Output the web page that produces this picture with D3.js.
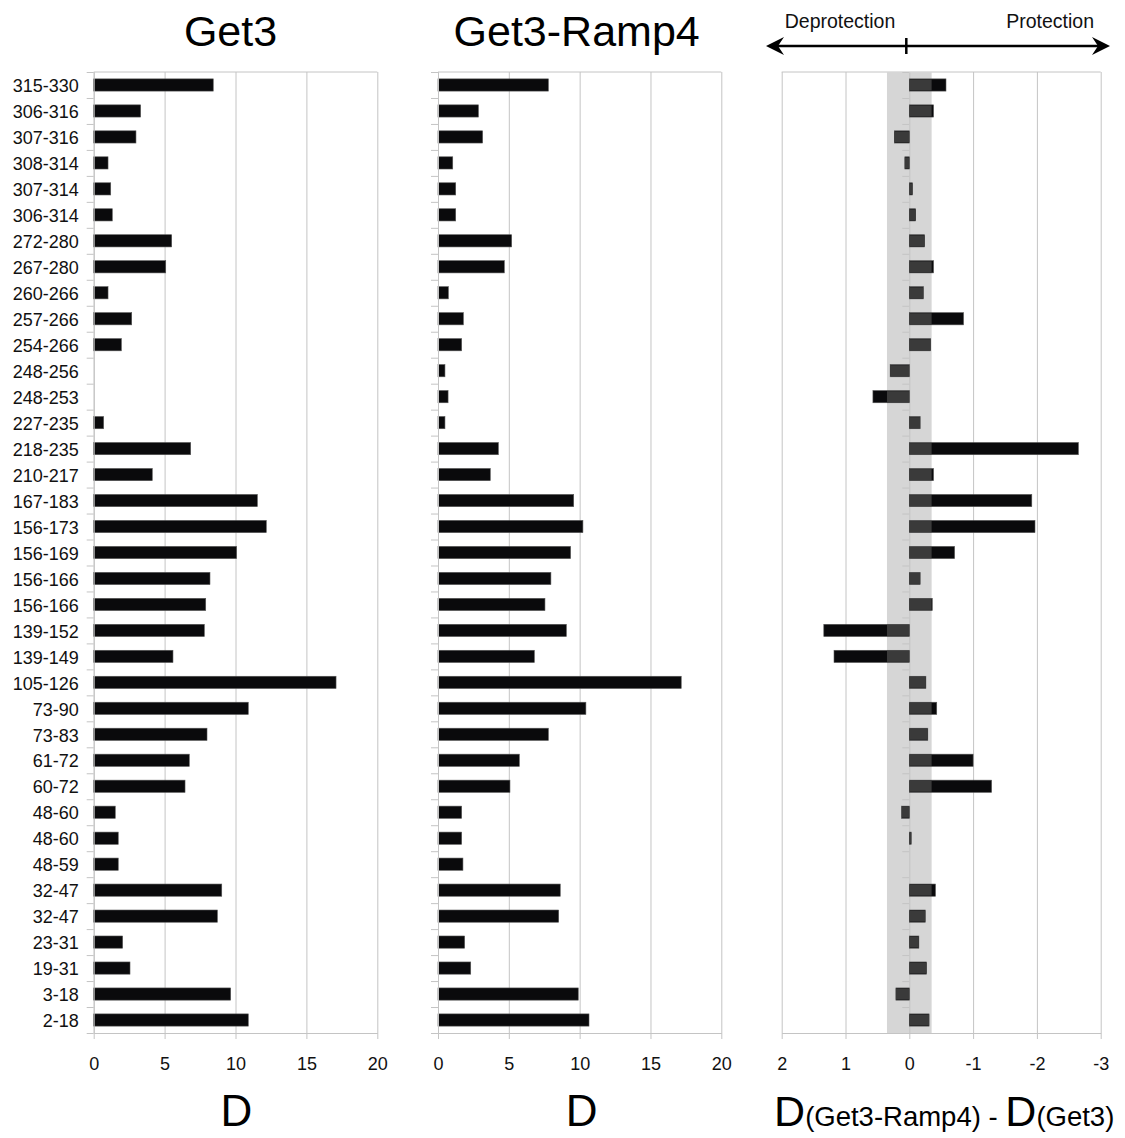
<!DOCTYPE html>
<html>
<head>
<meta charset="utf-8">
<script src="https://cdn.jsdelivr.net/npm/d3@7"></script>
<style>
  body { margin: 0; background: #fff; }
  svg { display: block; font-family: "Liberation Sans", Arial, sans-serif; }
</style>
</head>
<body>
<div id="chart"></div>
<script>
// peptide ranges, top to bottom
const peptides = ["315-330", "306-316", "307-316", "308-314", "307-314", "306-314", "272-280", "267-280",
  "260-266", "257-266", "254-266", "248-256", "248-253", "227-235", "218-235", "210-217", "167-183",
  "156-173", "156-169", "156-166", "156-166", "139-152", "139-149", "105-126", "73-90", "73-83",
  "61-72", "60-72", "48-60", "48-60", "48-59", "32-47", "32-47", "23-31", "19-31", "3-18", "2-18"];

// deuterium uptake D, Get3 alone
const dGet3 = [8.43, 3.31, 2.98, 1.01, 1.20, 1.31, 5.50, 5.08, 1.01, 2.68, 1.95, null, null, 0.70,
  6.84, 4.13, 11.54, 12.17, 10.08, 8.20, 7.90, 7.80, 5.59, 17.09, 10.90, 7.99, 6.74, 6.44, 1.52,
  1.73, 1.73, 9.03, 8.72, 2.04, 2.56, 9.66, 10.90];

// deuterium uptake D, Get3-Ramp4
const dRamp4 = [7.79, 2.85, 3.15, 1.04, 1.25, 1.25, 5.20, 4.68, 0.73, 1.79, 1.67, 0.49, 0.71, 0.49,
  4.26, 3.69, 9.58, 10.23, 9.36, 7.97, 7.55, 9.06, 6.80, 17.17, 10.44, 7.79, 5.74, 5.08, 1.67,
  1.67, 1.76, 8.63, 8.52, 1.88, 2.31, 9.90, 10.66];

// difference D(Get3-Ramp4) - D(Get3)
const dDiff = [-0.575, -0.38, 0.235, 0.07, -0.05, -0.10, -0.24, -0.38, -0.22, -0.85, -0.335, 0.30,
  0.57, -0.17, -2.65, -0.38, -1.92, -1.97, -0.71, -0.17, -0.36, 1.34, 1.18, -0.26, -0.43, -0.29,
  -1.0, -1.29, 0.12, -0.03, null, -0.41, -0.25, -0.15, -0.27, 0.21, -0.31];

const uptakeTicks = [0, 5, 10, 15, 20];
const diffTicks = [2, 1, 0, -1, -2, -3];
const noiseBand = 0.35;   // significance threshold (grey band)

const width = 1125, height = 1138;
const plotTop = 72, plotBottom = 1033;
const gridColor = "#c4c4c4";
const barColor = "#0a0a0c";

const svg = d3.select("#chart").append("svg")
  .attr("width", width)
  .attr("height", height);

const y = d3.scaleBand()
  .domain(d3.range(peptides.length))
  .range([plotTop, plotBottom])
  .paddingInner(0.53)
  .paddingOuter(0.265);

// category boundaries for the little ticks on the y axis
const yEdge = d3.scaleLinear().domain([0, peptides.length]).range([plotTop, plotBottom]);

const x1 = d3.scaleLinear().domain([0, 20]).range([93.7, 377.3]);
const x2 = d3.scaleLinear().domain([0, 20]).range([438, 721.3]);
const x3 = d3.scaleLinear().domain([2, -3]).range([781.7, 1100.7]);

function drawGrid(x, ticks) {
  const g = svg.append("g");
  g.append("g")
    .attr("transform", `translate(0,${plotBottom})`)
    .call(d3.axisBottom(x).tickValues(ticks).tickSize(-(plotBottom - plotTop)).tickFormat(""))
    .call(s => s.select(".domain").remove())
    .selectAll("line").attr("stroke", gridColor);

  // top border
  g.append("line")
    .attr("x1", x.range()[0]).attr("x2", x.range()[1])
    .attr("y1", plotTop).attr("y2", plotTop)
    .attr("stroke", gridColor);
}

function drawAxes(x, ticks) {
  // bottom axis, plain hyphen for negatives like the original
  const ax = svg.append("g")
    .attr("transform", `translate(0,${plotBottom})`)
    .call(d3.axisBottom(x).tickValues(ticks).tickSize(6).tickSizeOuter(0).tickPadding(18)
      .tickFormat(d => String(d)));
  ax.select(".domain").attr("stroke", gridColor);
  ax.selectAll("line").attr("stroke", gridColor);
  ax.selectAll("text").attr("font-size", 18).attr("fill", "#111")
    .attr("font-family", "Liberation Sans, Arial, sans-serif");

  // y axis with boundary ticks at zero
  const ay = svg.append("g")
    .attr("transform", `translate(${x(0)},0)`)
    .call(d3.axisLeft(yEdge).tickValues(d3.range(peptides.length + 1)).tickSize(7)
      .tickSizeOuter(0).tickFormat(""));
  ay.select(".domain").attr("stroke", gridColor);
  ay.selectAll("line").attr("stroke", gridColor);
}

function drawBars(x, values) {
  svg.append("g").selectAll("rect")
    .data(values.map((v, i) => ({ v, i })).filter(d => d.v != null))
    .join("rect")
    .attr("x", d => Math.min(x(0), x(d.v)))
    .attr("y", d => y(d.i))
    .attr("width", d => Math.abs(x(d.v) - x(0)))
    .attr("height", y.bandwidth())
    .attr("fill", barColor)
    .attr("stroke", "#555")
    .attr("stroke-width", 0.6);
}

// ---- panel 1: Get3
drawGrid(x1, uptakeTicks);
drawBars(x1, dGet3);
drawAxes(x1, uptakeTicks);

svg.append("g")
  .attr("transform", `translate(${x1(0)},0)`)
  .call(d3.axisLeft(y).tickSize(0).tickPadding(15).tickFormat(i => peptides[i]))
  .call(s => s.select(".domain").remove())
  .selectAll("text")
  .attr("font-size", 18)
  .attr("fill", "#111")
  .attr("dy", "0.4em")
  .attr("font-family", "Liberation Sans, Arial, sans-serif");

// ---- panel 2: Get3-Ramp4
drawGrid(x2, uptakeTicks);
drawBars(x2, dRamp4);
drawAxes(x2, uptakeTicks);

// ---- panel 3: difference
drawGrid(x3, diffTicks);
svg.append("rect")
  .attr("x", x3(noiseBand))
  .attr("y", plotTop)
  .attr("width", x3(-noiseBand) - x3(noiseBand))
  .attr("height", plotBottom - plotTop)
  .attr("fill", "#d6d6d6");
drawAxes(x3, diffTicks);
drawBars(x3, dDiff);

// part of each bar inside the grey band is shown in dark grey
svg.append("g").selectAll("rect")
  .data(dDiff.map((v, i) => ({ v, i })).filter(d => d.v != null))
  .join("rect")
  .attr("x", d => Math.min(x3(0), x3(Math.max(-noiseBand, Math.min(noiseBand, d.v)))))
  .attr("y", d => y(d.i) + 0.6)
  .attr("width", d => Math.abs(x3(Math.max(-noiseBand, Math.min(noiseBand, d.v))) - x3(0)))
  .attr("height", y.bandwidth() - 1.2)
  .attr("fill", "#3a3a3a");

// ---- titles
svg.append("text").attr("x", (x1(0) + x1(20)) / 2 - 5).attr("y", 46)
  .attr("text-anchor", "middle").attr("font-size", 43).attr("fill", "#000").text("Get3");
svg.append("text").attr("x", (x2(0) + x2(20)) / 2 - 3).attr("y", 46)
  .attr("text-anchor", "middle").attr("font-size", 43).attr("fill", "#000").text("Get3-Ramp4");

// protection / deprotection arrow
const arrowY = 46;
const ann = svg.append("g");
ann.append("line")
  .attr("x1", 772).attr("x2", 1104)
  .attr("y1", arrowY).attr("y2", arrowY)
  .attr("stroke", "#000").attr("stroke-width", 2.5);
ann.append("path")
  .attr("d", `M766,${arrowY} L784,${arrowY - 9} L778,${arrowY} L784,${arrowY + 9} Z`)
  .attr("fill", "#000");
ann.append("path")
  .attr("d", `M1110,${arrowY} L1092,${arrowY - 9} L1098,${arrowY} L1092,${arrowY + 9} Z`)
  .attr("fill", "#000");
ann.append("line")
  .attr("x1", x3(0) - 3).attr("x2", x3(0) - 3)
  .attr("y1", arrowY - 8).attr("y2", arrowY + 8)
  .attr("stroke", "#000").attr("stroke-width", 2.5);
ann.append("text").attr("x", 840).attr("y", 28).attr("text-anchor", "middle")
  .attr("font-size", 19.5).attr("fill", "#111").text("Deprotection");
ann.append("text").attr("x", 1094).attr("y", 28).attr("text-anchor", "end")
  .attr("font-size", 19.5).attr("fill", "#111").text("Protection");

// ---- bottom axis titles
svg.append("text").attr("x", (x1(0) + x1(20)) / 2 + 1).attr("y", 1126)
  .attr("text-anchor", "middle").attr("font-size", 44).attr("fill", "#000").text("D");
svg.append("text").attr("x", (x2(0) + x2(20)) / 2 + 2).attr("y", 1126)
  .attr("text-anchor", "middle").attr("font-size", 44).attr("fill", "#000").text("D");

const diffLabel = svg.append("text")
  .attr("x", (x3(2) + x3(-3)) / 2 + 3).attr("y", 1126)
  .attr("text-anchor", "middle").attr("fill", "#000");
diffLabel.append("tspan").attr("font-size", 43).text("D");
diffLabel.append("tspan").attr("font-size", 27.5).text("(Get3-Ramp4) - ");
diffLabel.append("tspan").attr("font-size", 43).text("D");
diffLabel.append("tspan").attr("font-size", 27.5).text("(Get3)");
</script>
</body>
</html>
